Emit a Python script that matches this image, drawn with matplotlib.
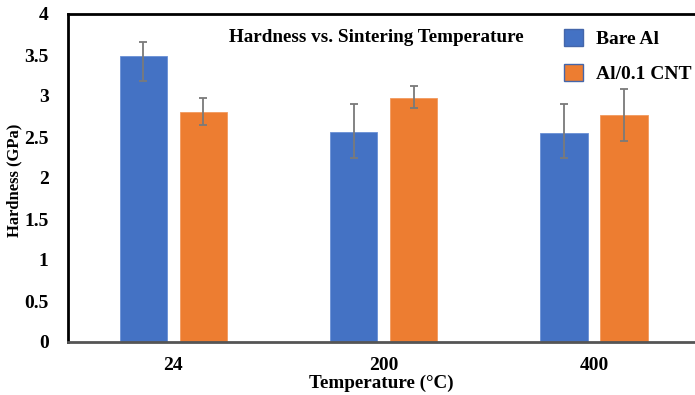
import matplotlib
matplotlib.use("Agg")
import matplotlib.pyplot as plt
import numpy as np

categories = ["24", "200", "400"]
bare_al = [3.49, 2.56, 2.55]
bare_al_err_low = [0.31, 0.32, 0.31]
bare_al_err_high = [0.17, 0.34, 0.35]
cnt = [2.81, 2.98, 2.77]
cnt_err_low = [0.16, 0.13, 0.32]
cnt_err_high = [0.16, 0.14, 0.32]
yticks = [0, 0.5, 1, 1.5, 2, 2.5, 3, 3.5, 4]
ytick_labels = ["0", "0.5", "1", "1.5", "2", "2.5", "3", "3.5", "4"]

plt.rcParams['font.family'] = ['Liberation Serif', 'DejaVu Serif']
plt.rcParams['font.weight'] = 'bold'

fig = plt.figure(figsize=(6.95, 3.95), dpi=100)
ax = fig.add_axes([68/695, 53/395, 627/695, 328/395])

x = np.arange(len(categories))
w = 0.224
off = 0.1425
ax.bar(x - off, bare_al, w, color="#4472C4", edgecolor="#6a90d6", linewidth=0.6,
       label="Bare Al", zorder=2)
ax.bar(x + off, cnt, w, color="#ED7D31", edgecolor="#f29a5e", linewidth=0.6,
       label="Al/0.1 CNT", zorder=2)
ax.errorbar(x - off, bare_al, yerr=[bare_al_err_low, bare_al_err_high], fmt='none',
            ecolor="#7a7a7a", elinewidth=1.3, capsize=3, capthick=1.3, zorder=3)
ax.errorbar(x + off, cnt, yerr=[cnt_err_low, cnt_err_high], fmt='none',
            ecolor="#7a7a7a", elinewidth=1.3, capsize=3, capthick=1.3, zorder=3)

ax.set_xlim(-0.5, 2.48)
ax.set_ylim(0, 4)
ax.set_xticks(x)
ax.set_xticklabels(categories, fontsize=14, fontweight='bold')
ax.set_yticks(yticks)
ax.set_yticklabels(ytick_labels, fontsize=14, fontweight='bold')
ax.tick_params(axis='x', length=0, pad=11)
ax.tick_params(axis='y', length=0, pad=14)

ax.spines['right'].set_visible(False)
ax.spines['top'].set_color('black')
ax.spines['top'].set_linewidth(2)
ax.spines['left'].set_color('black')
ax.spines['left'].set_linewidth(2)
ax.spines['bottom'].set_color('#555555')
ax.spines['bottom'].set_linewidth(2)

ax.set_xlabel("Temperature (°C)", fontsize=13.8, fontweight='bold', labelpad=0)
ax.set_ylabel("Hardness (GPa)", fontsize=12, fontweight='bold')
ax.yaxis.set_label_coords(14/695, 1 - 180/395, transform=fig.transFigure)
ax.yaxis.label.set_va('center')

fig.text(376/695, 1 - 38/395, "Hardness vs. Sintering Temperature", ha='center', va='center',
         fontsize=13.8, fontweight='bold')

leg = ax.legend(loc='upper left', bbox_to_anchor=(556/695, 1 - 21/395),
                bbox_transform=fig.transFigure, frameon=False, fontsize=14,
                handlelength=1.0, handleheight=1.0, labelspacing=0.8,
                handletextpad=0.65, borderaxespad=0)
for t in leg.get_texts():
    t.set_fontweight('bold')
for h in leg.legend_handles:
    h.set_edgecolor("#4466aa")
    h.set_linewidth(1.0)

fig.savefig("out.png", dpi=100)
